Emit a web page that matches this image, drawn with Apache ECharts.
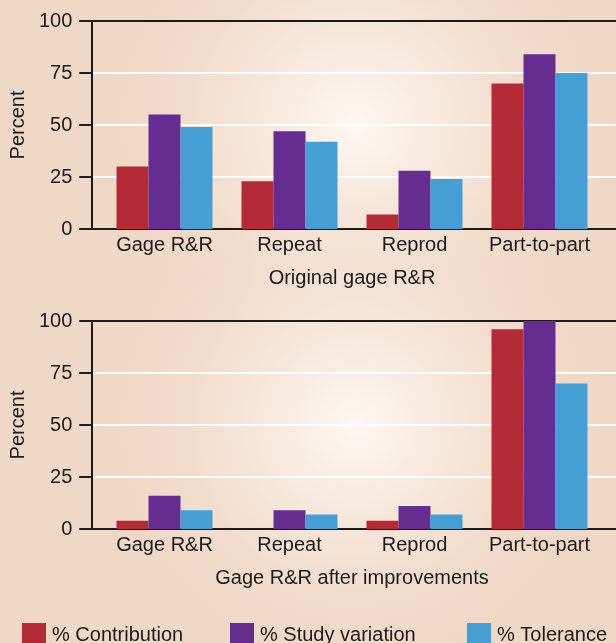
<!DOCTYPE html>
<html>
<head>
<meta charset="utf-8">
<script src="https://cdn.jsdelivr.net/npm/echarts@6/dist/echarts.min.js"></script>
<style>
	html, body { margin: 0; padding: 0; }
	#chart { width: 616px; height: 643px; }
</style>
</head>
<body>
<div id="chart"></div>
<script>
// data
const categories = ['Gage R&R', 'Repeat', 'Reprod', 'Part-to-part'];
const seriesNames = ['% Contribution', '% Study variation', '% Tolerance'];

const contribOriginal = [30, 23, 7, 70];
const studyOriginal = [55, 47, 28, 84];
const tolOriginal = [49, 42, 24, 75];

const contribAfter = [4, 0, 4, 96];
const studyAfter = [16, 9, 11, 100];
const tolAfter = [9, 7, 7, 70];

const yTickLabels = [0, 25, 50, 75, 100];

const colors = ['#b52a37', '#662d91', '#459fd5'];
const font = '"Liberation Sans", Arial, sans-serif';
const fontSize = 20;
const ink = '#1c1a1a';
const peach = '#f0d8c6';

let chart = echarts.init(document.getElementById('chart'));

const panels = [
	{ top: 21, title: 'Original gage R&R', values: [contribOriginal, studyOriginal, tolOriginal] },
	{ top: 321, title: 'Gage R&R after improvements', values: [contribAfter, studyAfter, tolAfter] }
];
const plotHeight = 208;

let grid = [], xAxis = [], yAxis = [], series = [];

panels.forEach((p, i) =>
{
	// frame grid: axis lines, ticks, white split lines
	grid.push({ left: 88, right: 0, top: p.top, height: plotHeight });
	// bar grid
	grid.push({ left: 102, right: 14, top: p.top, height: plotHeight });

	const frame = i * 2, bars = i * 2 + 1;

	xAxis.push({
		gridIndex: frame, type: 'value', min: 0, max: 1, position: 'bottom',
		axisLine: { show: true, lineStyle: { color: ink, width: 2 } },
		axisTick: { show: false }, axisLabel: { show: false }, splitLine: { show: false }
	});
	xAxis.push({
		gridIndex: bars, type: 'category', data: categories,
		axisLine: { show: false }, axisTick: { show: false },
		axisLabel: { color: ink, fontFamily: font, fontSize: fontSize, margin: 6, interval: 0 },
		name: p.title, nameLocation: 'middle', nameGap: 39,
		nameTextStyle: { color: ink, fontFamily: font, fontSize: fontSize }
	});
	xAxis.push({
		gridIndex: frame, type: 'value', min: 0, max: 1, position: 'top',
		axisLine: { show: true, lineStyle: { color: ink, width: 2 } },
		axisTick: { show: false }, axisLabel: { show: false }, splitLine: { show: false }
	});

	yAxis.push({
		gridIndex: frame, type: 'value', min: yTickLabels[0], max: yTickLabels[yTickLabels.length - 1],
		interval: yTickLabels[1] - yTickLabels[0],
		axisLine: { show: true, lineStyle: { color: ink, width: 2 } },
		axisTick: { show: true, length: 12, lineStyle: { color: ink, width: 2 } },
		axisLabel: { color: ink, fontFamily: font, fontSize: fontSize, margin: 19 },
		splitLine: { show: true, showMinLine: false, showMaxLine: false, lineStyle: { color: '#ffffff', width: 2 } },
		name: 'Percent', nameLocation: 'middle', nameGap: 58, nameRotate: 90,
		nameTextStyle: { color: ink, fontFamily: font, fontSize: fontSize }
	});
	yAxis.push({
		gridIndex: bars, type: 'value', min: 0, max: 100, show: false
	});

	p.values.forEach((vals, k) =>
	{
		series.push({
			type: 'bar', name: seriesNames[k],
			xAxisIndex: i * 3 + 1, yAxisIndex: bars,
			data: vals, barWidth: 32, barGap: '0%',
			itemStyle: { color: colors[k] },
			emphasis: { disabled: true }
		});
	});
});

const legendLeft = [17, 225, 462];
let legend = seriesNames.map((name, k) => ({
	left: legendLeft[k], top: 618, itemWidth: 24, itemHeight: 24,
	icon: 'rect', data: [name],
	textStyle: { color: ink, fontFamily: font, fontSize: fontSize, padding: [0, 0, 0, 1] }
}));

const glow = (cy) => new echarts.graphic.RadialGradient(355, cy, 260, [
	{ offset: 0, color: 'rgba(253,248,243,1)' },
	{ offset: 0.45, color: 'rgba(247,232,220,0.75)' },
	{ offset: 1, color: 'rgba(240,216,198,0)' }
], true);

let option = {
	animation: false,
	backgroundColor: peach,
	color: colors,
	graphic: [
		{ type: 'rect', silent: true, z: -10, shape: { x: 0, y: 0, width: 616, height: 643 }, style: { fill: glow(125) } },
		{ type: 'rect', silent: true, z: -10, shape: { x: 0, y: 0, width: 616, height: 643 }, style: { fill: glow(425) } }
	],
	legend: legend,
	grid: grid,
	xAxis: xAxis,
	yAxis: yAxis,
	series: series
};

chart.setOption(option);
</script>
</body>
</html>
